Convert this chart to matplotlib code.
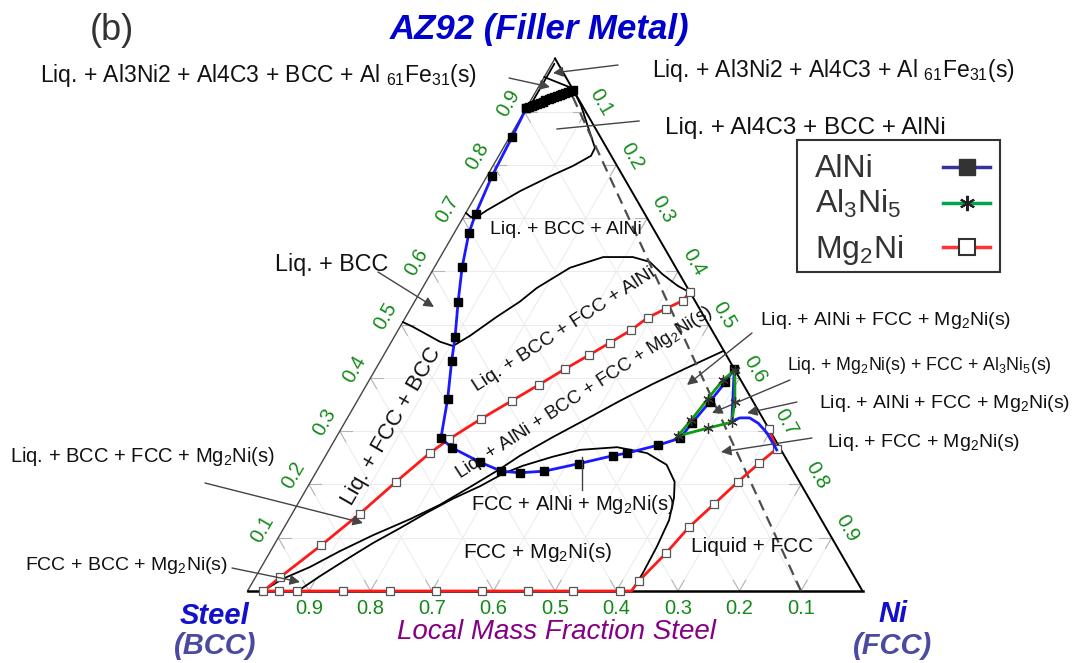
import numpy as np
import matplotlib
matplotlib.use("Agg")
import matplotlib.pyplot as plt
from matplotlib.patches import Rectangle

plt.rcParams['font.family'] = ['Liberation Sans', 'DejaVu Sans']
plt.rcParams['mathtext.fontset'] = 'custom'
plt.rcParams['mathtext.rm'] = 'Liberation Sans'
plt.rcParams['mathtext.it'] = 'Liberation Sans:italic'
plt.rcParams['mathtext.bf'] = 'Liberation Sans:bold'

# ---------------- data: mass fractions (AZ92, steel); Ni = 1 - AZ92 - steel ----------------
# AlNi liquidus-valley path: dense cluster near the AZ92 corner, then the main valley
alni_band_az = [0.941, 0.939, 0.937, 0.935, 0.933, 0.931, 0.929, 0.927, 0.925, 0.923, 0.921,
                0.919, 0.917, 0.915, 0.913, 0.911, 0.909, 0.907]
alni_band_steel = [0.000, 0.005, 0.011, 0.016, 0.022, 0.027, 0.033, 0.038, 0.044, 0.049, 0.055,
                   0.060, 0.066, 0.071, 0.077, 0.082, 0.088, 0.093]
alni_az = [0.907, 0.852, 0.779, 0.708, 0.672, 0.608, 0.543, 0.477, 0.432, 0.361, 0.287, 0.269, 0.242,
           0.225, 0.222, 0.225, 0.239, 0.254, 0.259, 0.274, 0.287, 0.315, 0.355, 0.392, 0.417]
alni_steel = [0.093, 0.144, 0.213, 0.275, 0.304, 0.347, 0.386, 0.424, 0.452, 0.494, 0.542, 0.533, 0.501,
              0.475, 0.446, 0.405, 0.342, 0.279, 0.253, 0.195, 0.153, 0.120, 0.071, 0.027, 0.000]
alni_tail_az = [0.417, 0.319, 0.325, 0.325, 0.315, 0.297, 0.278, 0.265]
alni_tail_steel = [0.000, 0.053, 0.037, 0.021, 0.012, 0.007, 0.007, 0.007]

# Mg2Ni path
mg2ni_az = [0.561, 0.545, 0.530, 0.513, 0.490, 0.466, 0.443, 0.417, 0.387, 0.357, 0.323, 0.285,
            0.259, 0.205, 0.145, 0.086, 0.026, 0.000, 0.000, 0.000, 0.000, 0.000, 0.000, 0.000,
            0.000, 0.000, 0.000, 0.000, 0.019, 0.071, 0.120, 0.163, 0.205, 0.240, 0.267, 0.304]
mg2ni_steel = [0.000, 0.020, 0.055, 0.093, 0.131, 0.178, 0.223, 0.275, 0.333, 0.392, 0.459, 0.530,
               0.574, 0.656, 0.745, 0.837, 0.934, 0.974, 0.949, 0.920, 0.845, 0.768, 0.694, 0.619,
               0.544, 0.471, 0.394, 0.376, 0.354, 0.284, 0.222, 0.160, 0.100, 0.048, 0.006, 0.000]
mg2ni_corner = 27  # kink on the steel axis, no symbol there

# Al3Ni5 closed path
al3ni5_az = [0.291, 0.321, 0.361, 0.396, 0.415, 0.355, 0.317, 0.306, 0.291]
al3ni5_steel = [0.155, 0.118, 0.071, 0.029, 0.000, 0.030, 0.054, 0.098, 0.155]

# phase-field boundaries
top_az, top_steel = [0.965, 0.944], [0.035, 0.000]
edge_az, edge_steel = [0.990, 0.907], [0.006, 0.089]
c1_az = [0.937, 0.911, 0.879, 0.851, 0.832, 0.817, 0.798, 0.781, 0.751, 0.715, 0.704, 0.702, 0.710]
c1_steel = [0.000, 0.002, 0.009, 0.015, 0.019, 0.033, 0.072, 0.113, 0.181, 0.253, 0.273, 0.286, 0.290]
c2_az = [0.505, 0.496, 0.468, 0.460, 0.479, 0.515, 0.543, 0.569, 0.607, 0.627, 0.627, 0.618, 0.595, 0.573, 0.560]
c2_steel = [0.495, 0.483, 0.453, 0.436, 0.399, 0.337, 0.286, 0.245, 0.172, 0.108, 0.060, 0.037, 0.028, 0.014, 0.000]
c3_az = [0.451, 0.419, 0.389, 0.357, 0.323, 0.289, 0.254, 0.229, 0.195, 0.162, 0.135, 0.105, 0.075, 0.045, 0.023, 0.000]
c3_steel = [0.000, 0.076, 0.146, 0.216, 0.287, 0.359, 0.430, 0.475, 0.541, 0.606, 0.668, 0.743, 0.812, 0.876, 0.931, 0.975]
c4_az = [0.000, 0.028, 0.058, 0.090, 0.118, 0.147, 0.173, 0.197, 0.220, 0.235, 0.252, 0.265, 0.270,
         0.259, 0.237, 0.205, 0.175, 0.133, 0.083, 0.034, 0.000]
c4_steel = [0.918, 0.868, 0.812, 0.751, 0.693, 0.635, 0.580, 0.523, 0.475, 0.435, 0.378, 0.327, 0.264,
            0.221, 0.200, 0.203, 0.219, 0.248, 0.293, 0.340, 0.375]

# dilution line towards the filler metal corner
dil_az, dil_steel = [0.0, 0.935], [0.1, 0.0065]

tick_values = [0.1, 0.2, 0.3, 0.4, 0.5, 0.6, 0.7, 0.8, 0.9]

# ---------------- helpers ----------------
SQ3 = np.sqrt(3) / 2


def tern(az, steel):
    az = np.asarray(az, float)
    steel = np.asarray(steel, float)
    return 1.0 - steel - az / 2.0, az * SQ3


W, H = 1072, 663
ORG_X, ORG_Y, SCALE = 247.5, 591.0, 615.0

fig = plt.figure(figsize=(W / 100, H / 100), dpi=100)
ax = fig.add_axes([0, 0, 1, 1], label='ternary')
ax.set_xlim(-ORG_X / SCALE, (W - ORG_X) / SCALE)
ax.set_ylim(-(H - ORG_Y) / SCALE, ORG_Y / SCALE)
ax.axis('off')

ov = fig.add_axes([0, 0, 1, 1], label='overlay')
ov.set_xlim(0, W)
ov.set_ylim(H, 0)
ov.axis('off')
ov.patch.set_alpha(0)

GREEN = '#15891a'
TICK_FS = 14.5

# ---------------- grid and ticks ----------------
grid_segments = []
for t in tick_values:
    grid_segments.append(tern([t, t], [1 - t, 0]))            # constant AZ92
    grid_segments.append(tern([0, 1 - t], [t, t]))            # constant steel
    grid_segments.append(tern([0, 1 - t], [1 - t, 0]))        # constant Ni
for (gx, gy) in grid_segments:
    ax.plot(gx, gy, color='#ebebeb', lw=0.7, zorder=1)
    d = np.array([gx[1] - gx[0], gy[1] - gy[0]])
    d = d / np.hypot(*d) * 0.02
    ax.plot([gx[0], gx[0] + d[0]], [gy[0], gy[0] + d[1]], color='#b5b5b5', lw=0.8, zorder=1.5)
    ax.plot([gx[1], gx[1] - d[0]], [gy[1], gy[1] - d[1]], color='#b5b5b5', lw=0.8, zorder=1.5)

# triangle edges
ax.plot(*tern([0, 1], [1, 0]), color='#444444', lw=1.0, zorder=2)
ax.plot(*tern([0, 0], [1, 0]), color='black', lw=1.8, zorder=2)
ax.plot(*tern([1, 0], [0, 0]), color='black', lw=1.4, zorder=2)

# tick labels
for t in tick_values:
    lab = f"{t:.1f}"
    ax.annotate(lab, tern(0, t), xytext=(0, -18), textcoords='offset pixels',
                ha='center', va='center', color=GREEN, fontsize=TICK_FS)
    ax.annotate(lab, tern(t, 1 - t), xytext=(-18 * 0.866, 18 * 0.5), textcoords='offset pixels',
                ha='center', va='center', color=GREEN, fontsize=TICK_FS, rotation=60,
                rotation_mode='anchor')
    ax.annotate(lab, tern(1 - t, 0), xytext=(18 * 0.866, 18 * 0.5), textcoords='offset pixels',
                ha='center', va='center', color=GREEN, fontsize=TICK_FS, rotation=-60,
                rotation_mode='anchor')

# ---------------- phase boundaries ----------------
for az, st in [(top_az, top_steel), (edge_az, edge_steel), (c1_az, c1_steel), (c2_az, c2_steel),
               (c3_az, c3_steel), (c4_az, c4_steel)]:
    ax.plot(*tern(az, st), color='black', lw=1.3, zorder=3, solid_capstyle='round')

ax.plot(*tern(dil_az, dil_steel), color='#4d4d4d', lw=1.6, dashes=(5, 3), zorder=3.5)

# ---------------- precipitation paths ----------------
ax.plot(*tern(mg2ni_az, mg2ni_steel), color='#ff1a1a', lw=2.0, zorder=4,
        marker='s', ms=5.5, mfc='white', mec='#555555', mew=0.9,
        markevery=[i for i in range(len(mg2ni_az)) if i != mg2ni_corner])

ax.plot(*tern(alni_tail_az, alni_tail_steel), color='#1a1aff', lw=2.0, zorder=5)
ax.plot(*tern(alni_az, alni_steel), color='#1a1aff', lw=2.0, zorder=5,
        marker='s', ms=6, mfc='black', mec='black')
ax.plot(*tern(alni_band_az, alni_band_steel), color='#1a1aff', lw=2.0, zorder=5,
        marker='s', ms=6, mfc='black', mec='black')

ax.plot(*tern(al3ni5_az, al3ni5_steel), color='#139a13', lw=2.0, zorder=6,
        marker=(6, 2, 0), ms=7.5, mec='#333333', mew=0.9, markevery=list(range(len(al3ni5_az) - 1)))

# ---------------- annotations ----------------
TXT = '#111111'
outer_labels = [
    ('Liq. + Al3Ni2 + Al4C3 + BCC + Al $_{61}$Fe$_{31}$(s)', 40, 82, 16.5),
    ('Liq. + Al3Ni2 + Al4C3 + Al $_{61}$Fe$_{31}$(s)', 652, 77, 16.5),
    ('Liq. + Al4C3 + BCC + AlNi', 665, 134, 17.5),
    ('Liq. + BCC', 275, 271, 16.8),
    ('Liq. + AlNi + FCC + Mg$_2$Ni(s)', 760, 325, 14),
    ('Liq. + Mg$_2$Ni(s) + FCC + Al$_3$Ni$_5$(s)', 787, 370, 12.8),
    ('Liq. + AlNi + FCC + Mg$_2$Ni(s)', 819, 408, 14),
    ('Liq. + FCC + Mg$_2$Ni(s)', 827, 447, 14),
    ('Liq. + BCC + FCC + Mg$_2$Ni(s)', 10, 462, 14.5),
    ('FCC + BCC + Mg$_2$Ni(s)', 25, 570, 14),
]
for s, x, y, fs in outer_labels:
    ov.text(x, y, s, fontsize=fs, color=TXT, ha='left', va='baseline')

region_labels = [
    ('Liq. + BCC + AlNi', 566, 229, 14, 0),
    ('FCC + AlNi + Mg$_2$Ni(s)', 573, 505, 14.5, 0),
    ('FCC + Mg$_2$Ni(s)', 538, 552, 15, 0),
    ('Liquid + FCC', 752, 547, 15, 0),
    ('Liq. + FCC + BCC', 392, 426, 16, 60),
    ('Liq. + BCC + FCC + AlNi', 564, 330, 14, 33),
    ('Liq. + AlNi + BCC + FCC + Mg$_2$Ni(s)', 584, 393, 13.5, 33),
]
for s, x, y, fs, rot in region_labels:
    ov.text(x, y, s, fontsize=fs, color=TXT, ha='center', va='center', rotation=rot,
            rotation_mode='anchor')

pointers = [
    ((509, 78), (550, 87), True),
    ((618, 65), (553, 73), True),
    ((639, 121), (557, 129), False),
    ((378, 272), (434, 307), True),
    ((205, 483), (363, 523), True),
    ((232, 568), (300, 582), True),
    ((752, 333), (687, 385), True),
    ((790, 380), (712, 413), True),
    ((797, 402), (747, 413), True),
    ((812, 438), (721, 452), True),
    ((582, 457), (582, 490), False),
]
for start, end, head in pointers:
    if head:
        ov.annotate('', xy=end, xytext=start,
                    arrowprops=dict(arrowstyle='-|>', color='#444444', lw=1.0,
                                    mutation_scale=15, shrinkA=0, shrinkB=0))
    else:
        ov.plot([start[0], end[0]], [start[1], end[1]], color='#444444', lw=1.0)

# titles and corner names
ov.text(112, 30, '(b)', fontsize=26, color='#333333', ha='center', va='center')
ov.text(540, 30, 'AZ92 (Filler Metal)', fontsize=25, color='#0000cc', fontweight='bold',
        style='italic', ha='center', va='center')
ov.text(215, 616, 'Steel', fontsize=21, color='#1111cc', fontweight='bold', style='italic',
        ha='center', va='center')
ov.text(215, 646, '(BCC)', fontsize=21, color='#4a4aa0', fontweight='bold', style='italic',
        ha='center', va='center')
ov.text(893, 614, 'Ni', fontsize=21, color='#1111cc', fontweight='bold', style='italic',
        ha='center', va='center')
ov.text(893, 646, '(FCC)', fontsize=21, color='#4a4aa0', fontweight='bold', style='italic',
        ha='center', va='center')
ov.text(556, 632, 'Local Mass Fraction Steel', fontsize=20, color='#850085', style='italic',
        ha='center', va='center')

# legend
ov.add_patch(Rectangle((797, 140), 203, 132, fill=False, ec='#333333', lw=1.5))
legend_rows = [
    ('AlNi', 177, 167, '#333399', dict(marker='s', ms=12, mfc='#333333', mec='#333333')),
    ('Al$_3$Ni$_5$', 213, 203, '#00a550', dict(marker=(6, 2, 0), ms=11, mec='#222222', mew=1.5)),
    ('Mg$_2$Ni', 258, 247, '#ff3333', dict(marker='s', ms=12, mfc='white', mec='#333333', mew=1.5)),
]
for name, base, ly, col, mk in legend_rows:
    ov.text(815, base, name, fontsize=23, color='#333333', ha='left', va='baseline')
    ov.plot([943, 990], [ly, ly], color=col, lw=2.5)
    ov.plot([966.5], [ly], linestyle='none', **mk)

fig.savefig('out.png', dpi=100)
